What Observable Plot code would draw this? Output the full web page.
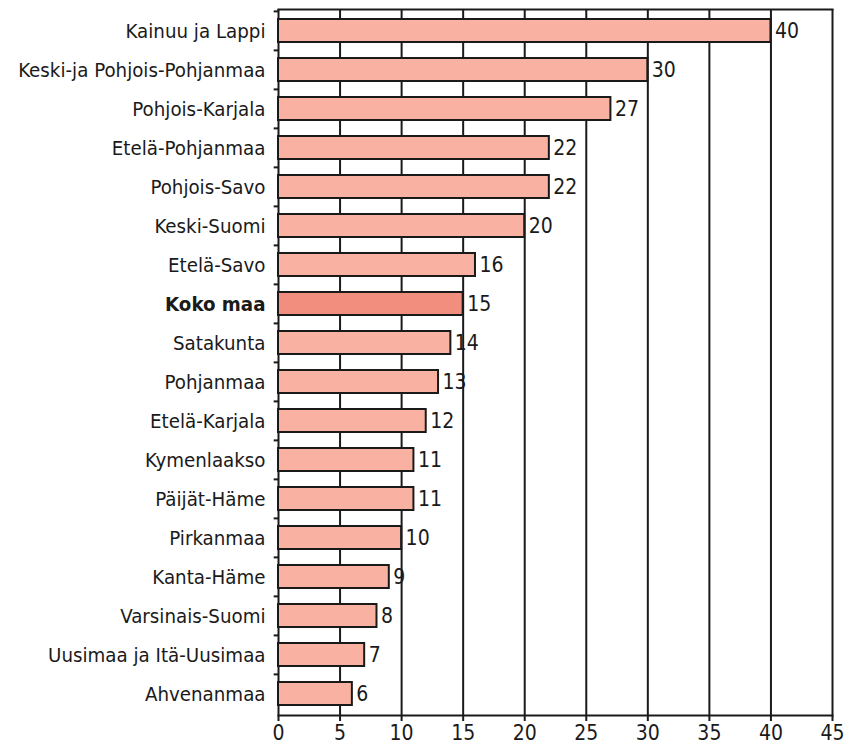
<!DOCTYPE html>
<html>
<head>
<meta charset="utf-8">
<script src="https://cdn.jsdelivr.net/npm/d3@7"></script>
<script src="https://cdn.jsdelivr.net/npm/@observablehq/plot@0.6"></script>
<style>
  html, body { margin: 0; padding: 0; background: #fff; }
  #chart svg { display: block; }
  #chart svg text { font-stretch: condensed; }
</style>
</head>
<body>
<div id="chart"></div>
<script>
const regions = [
  "Kainuu ja Lappi",
  "Keski-ja Pohjois-Pohjanmaa",
  "Pohjois-Karjala",
  "Etelä-Pohjanmaa",
  "Pohjois-Savo",
  "Keski-Suomi",
  "Etelä-Savo",
  "Koko maa",
  "Satakunta",
  "Pohjanmaa",
  "Etelä-Karjala",
  "Kymenlaakso",
  "Päijät-Häme",
  "Pirkanmaa",
  "Kanta-Häme",
  "Varsinais-Suomi",
  "Uusimaa ja Itä-Uusimaa",
  "Ahvenanmaa"
];
const values = [40, 30, 27, 22, 22, 20, 16, 15, 14, 13, 12, 11, 11, 10, 9, 8, 7, 6];
const highlight = "Koko maa";
const xTicks = [0, 5, 10, 15, 20, 25, 30, 35, 40, 45];

const data = regions.map((r, i) => ({region: r, value: values[i]}));

const W = 850, H = 751;
const mTop = 9, mBottom = 36, mLeft = 278, mRight = 18;
const step = (H - mTop - mBottom) / regions.length;
const font = "'DejaVu Sans Condensed', 'DejaVu Sans', sans-serif";

const chart = Plot.plot({
  width: W,
  height: H,
  marginTop: mTop,
  marginBottom: mBottom,
  marginLeft: mLeft,
  marginRight: mRight,
  style: {fontFamily: font, fontSize: "20px", color: "#1a1a1a", background: "#fff"},
  x: {domain: [0, 45]},
  y: {domain: regions, paddingInner: 0.4, paddingOuter: 0.2, axis: null},
  marks: [
    Plot.ruleX(xTicks.filter(d => d > 0), {stroke: "#1a1a1a", strokeWidth: 2}),
    Plot.frame({anchor: "top", stroke: "#1a1a1a", strokeWidth: 2}),
    Plot.ruleX([0], {stroke: "#1a1a1a", strokeWidth: 2}),
    Plot.ruleY(regions, {y: d => d, x1: -0.35, x2: 0, dy: -step / 2, stroke: "#1a1a1a", strokeWidth: 2, clip: false}),
    Plot.barX(data, {
      y: "region", x: "value",
      fill: d => d.region === highlight ? "#f28e7d" : "#f9b2a1",
      stroke: "#1a1a1a", strokeWidth: 2
    }),
    Plot.text(data, {
      y: "region", x: "value", text: d => String(d.value),
      textAnchor: "start", dx: 4, fontSize: 21, fill: "#1a1a1a"
    }),
    Plot.text(data.filter(d => d.region !== highlight), {
      y: "region", x: 0, text: "region",
      textAnchor: "end", dx: -13, fontSize: 20.3, fill: "#1a1a1a"
    }),
    Plot.text(data.filter(d => d.region === highlight), {
      y: "region", x: 0, text: "region",
      textAnchor: "end", dx: -13, fontSize: 20.3, fill: "#1a1a1a", fontWeight: "bold"
    }),
    Plot.axisX({ticks: xTicks, tickSize: 6, tickPadding: 4, fontSize: 21, tickFormat: d => String(d), label: null, stroke: "#1a1a1a", strokeWidth: 2}),
    Plot.frame({anchor: "bottom", stroke: "#1a1a1a", strokeWidth: 2})
  ]
});
document.getElementById("chart").appendChild(chart);
</script>
</body>
</html>
